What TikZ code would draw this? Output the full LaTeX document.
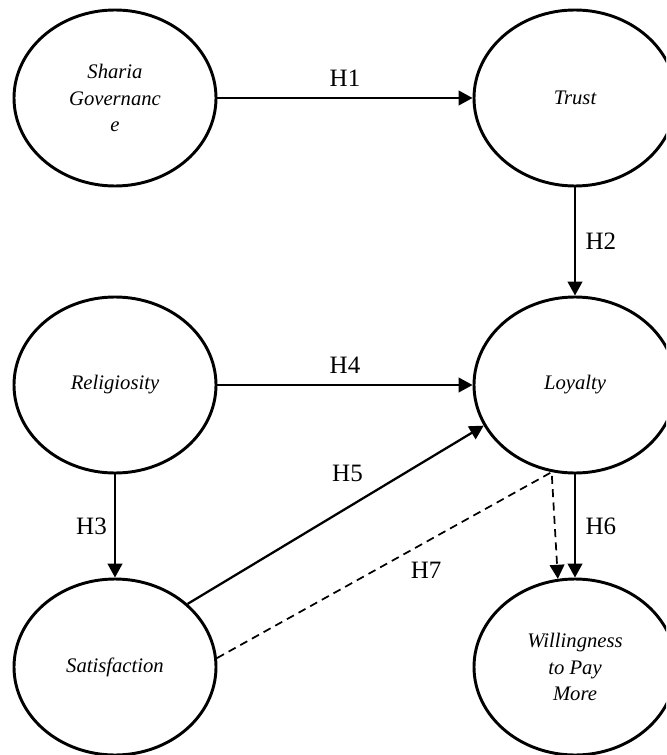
\documentclass[tikz,border=0pt]{standalone}
\usepackage{fontspec}
\setmainfont{Liberation Serif}
\usetikzlibrary{shapes.geometric, arrows.meta}

\begin{document}
\begin{tikzpicture}[x=0.75pt, y=-0.75pt,
		construct/.style={ellipse, draw, line width=2.2pt, minimum width=151.5pt, minimum height=132pt, inner sep=0pt, align=center, font=\fontsize{15.5}{20}\selectfont\itshape},
		link/.style={line width=1.7pt, -{Triangle[length=10.5pt, width=11pt]}},
		hyp/.style={font=\fontsize{18.75}{22}\selectfont, inner sep=3.33pt}]
			\def\lx{115}
			\def\rx{575}
			\def\ya{98}
			\def\yb{385}
			\def\yc{667}
			
			\useasboundingbox (0,0) rectangle (666,755);
			\clip (0,0) rectangle (666,755);
			
			\node [construct] (sg) at (\lx,\ya) {Sharia\\Governanc\\e};
			\node [construct] (tr) at (\rx,\ya) {Trust};
			\node [construct] (rel) at (\lx,\yb) {Religiosity};
			\node [construct] (loy) at (\rx,\yb) {Loyalty};
			\node [construct] (sat) at (\lx,\yc) {Satisfaction};
			\node [construct] (wtp) at (\rx,\yc) {Willingness\\to Pay\\More};
			
			\draw [link] (sg.east) -- node [hyp, midway, above=4.5pt] (h1) {H1} (tr.west);
			\draw [link] (tr.south) -- node [hyp, midway, right=3.8pt] (h2) {H2} (loy.north);
			\draw [link] (rel.south) -- node [hyp, midway, left=2pt] (h3) {H3} (sat.north);
			\draw [link] (rel.east) -- node [hyp, midway, above=4.5pt] (h4) {H4} (loy.west);
			\draw [link] (sat.41) -- node [hyp, pos=0.54, above=14.9pt] (h5) {H5} (loy.204);
			\draw [link] (loy.south) -- node [hyp, midway, right=3.8pt] (h6) {H6} (wtp.north);
			
			% indirect path through loyalty
			\draw [link, line width=1.3pt, dash pattern=on 6pt off 4pt] (sat.5) -- node [hyp, pos=0.625, below=11.3pt] (h7) {H7} (loy.255) -- (wtp.101);
		\end{tikzpicture}
\end{document}
